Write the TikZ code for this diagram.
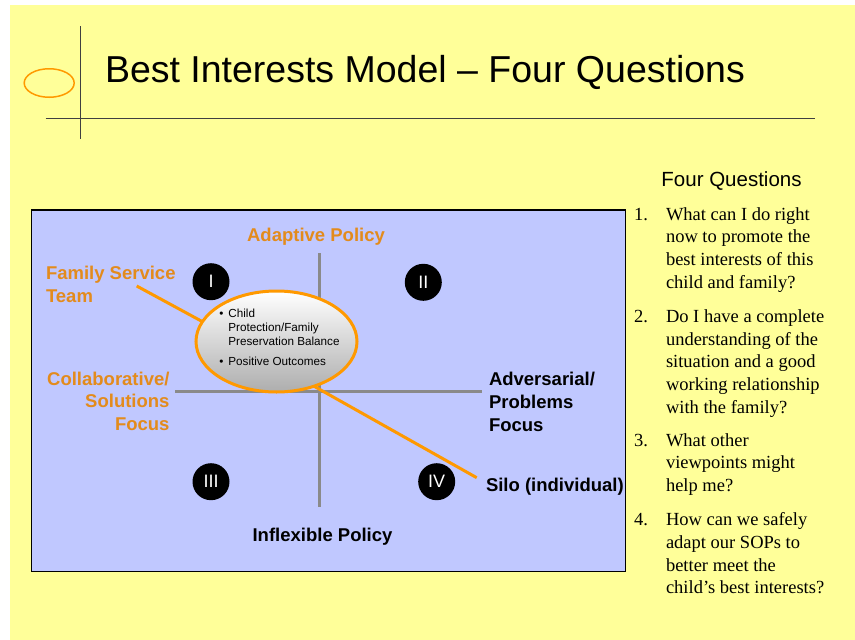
\documentclass[tikz,border=0pt]{standalone}
\usepackage{fontspec}
\setmainfont{Liberation Sans}
\newfontfamily\serifq{Liberation Serif}
\usetikzlibrary{shapes.geometric}
\definecolor{slidebg}{HTML}{FFFF99}
\definecolor{panelbg}{HTML}{C0C8FF}
\definecolor{accent}{HTML}{FF9900}
\definecolor{labelorange}{HTML}{E38B1C}
\definecolor{axisgray}{HTML}{8A8A8A}
\newcommand{\fsz}[2]{\fontsize{#1}{#2}\selectfont}

\begin{document}
\begin{tikzpicture}[x=1pt,y=-1pt,
  every node/.style={inner sep=0pt, outer sep=0pt},
  boldlabel/.style={font=\fsz{18.5}{22.7}\bfseries},
  orangelabel/.style={boldlabel, text=labelorange},
  quadrant/.style={circle, fill=black, minimum size=37pt, text=white, font=\fsz{18}{20}},
  axisline/.style={draw=axisgray, line width=3pt},
  leader/.style={draw=accent, line width=3pt},
  % multi-line nodes are placed by the baseline of their last line
  question/.style={anchor=base west, align=left, font=\serifq\fsz{18.5}{22.7}},
  qnum/.style={anchor=base west, font=\serifq\fsz{18.5}{22.7}}
]
\useasboundingbox (0,0) rectangle (855,640);

% slide background
\fill[slidebg] (10,5) rectangle (855,640);

% title rules and ornament
\coordinate (vtop) at (80.7,26);
\coordinate (vbot) at (80.7,139);
\coordinate (hleft) at (45.7,118.3);
\coordinate (hright) at (815,118.3);
\draw[black!75, line width=1.2pt] (vtop) -- (vbot);
\draw[black!75, line width=1.2pt] (hleft) -- (hright);
\node[draw=accent, line width=1.5pt, ellipse, minimum width=50pt, minimum height=28.5pt] (orn) at (49.2,83) {};
\node[anchor=base west, font=\fsz{37.5}{40}] (title) at (105,82.7) {Best Interests Model -- Four Questions};

% model panel
\node[draw=black, line width=1.2pt, fill=panelbg, rectangle, anchor=north west,
      minimum width=594.4pt, minimum height=361.3pt] (panel) at (31.3,210) {};

% axes
\coordinate (ytop) at (319.3,253);
\coordinate (ybot) at (319.3,506.7);
\coordinate (xleft) at (175,391);
\coordinate (xright) at (482,391);
\draw[axisline] (ytop) -- (ybot);
\draw[axisline] (xleft) -- (xright);

% quadrant badges
\node[quadrant] (q1) at (211,281.7) {I};
\node[quadrant] (q2) at (423.3,282.3) {II};
\node[quadrant] (q3) at (211,481.7) {III};
\node[quadrant] (q4) at (436.7,481.7) {IV};

% axis and role labels
\node[orangelabel, anchor=base] (adaptive) at (316,241.5) {Adaptive Policy};
\node[boldlabel, anchor=base] (inflexible) at (322.5,541.7) {Inflexible Policy};
\node[orangelabel, anchor=base west, align=left] (fst) at (46,302) {Family Service\\Team};
\node[orangelabel, anchor=base east, align=right] (collab) at (169.5,430.4) {Collaborative/\\Solutions\\Focus};
\node[boldlabel, anchor=base west, align=left] (advers) at (489,431.1) {Adversarial/\\Problems\\Focus};
\node[boldlabel, anchor=base west] (silo) at (486,491.7) {Silo (individual)};

% leader lines
\coordinate (fstend) at (136.7,286);
\coordinate (siloend) at (476.7,477.7);

% central ellipse
\node[ellipse, draw=accent, line width=3pt, top color=white, bottom color=black!32,
      minimum width=161pt, minimum height=101pt] (ell) at (276.5,341.5) {};
\draw[leader] (fstend) -- (ell.165);
\draw[leader] (ell.-50) -- (siloend);
\node[anchor=base west, font=\fsz{11.7}{14}] (elltext) at (219.3,317.3)
  {\begin{tabular}[t]{@{}l@{\hspace{5pt}}l@{}}
   \textbullet & Child\\
               & Protection/Family\\
               & Preservation Balance\\[6pt]
   \textbullet & Positive Outcomes
   \end{tabular}};

% four questions
\node[anchor=base, font=\fsz{20.5}{24}] (fqhead) at (731.5,186) {Four Questions};
\node[qnum] (n1) at (634,220) {1.};
\node[question] (t1) at (666,288.1) {What can I do right\\now to promote the\\best interests of this\\child and family?};
\node[qnum] (n2) at (634,322.3) {2.};
\node[question] (t2) at (666,413.1) {Do I have a complete\\understanding of the\\situation and a good\\working relationship\\with the family?};
\node[qnum] (n3) at (634,446) {3.};
\node[question] (t3) at (666,491.4) {What other\\viewpoints might\\help me?};
\node[qnum] (n4) at (634,525.7) {4.};
\node[question] (t4) at (666,593.8) {How can we safely\\adapt our SOPs to\\better meet the\\child’s best interests?};
\end{tikzpicture}
\end{document}
